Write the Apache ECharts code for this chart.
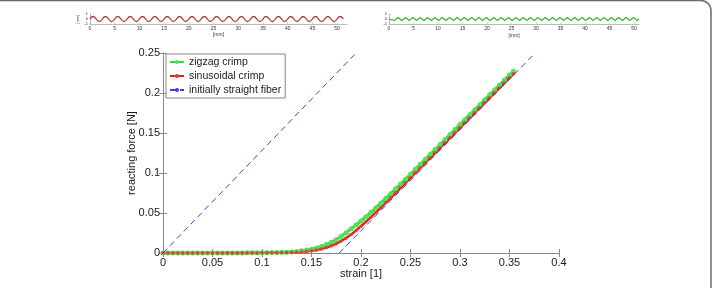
<!DOCTYPE html>
<html>
<head>
<meta charset="utf-8">
<script src="https://cdn.jsdelivr.net/npm/echarts@6/dist/echarts.min.js"></script>
<style>html,body{margin:0;padding:0;background:#fff;}#c{width:713px;height:288px;}</style>
</head>
<body>
<div id="c"></div>
<script>
// ---- main chart data ----
const strain = [0,0.005,0.01,0.015,0.02,0.025,0.03,0.035,0.04,0.045,0.05,0.055,0.06,0.065,0.07,0.075,0.08,0.085,0.09,0.095,0.1,0.105,0.11,0.115,0.12,0.125,0.13,0.135,0.14,0.145,0.15,0.155,0.16,0.165,0.17,0.175,0.18,0.185,0.19,0.195,0.2,0.205,0.21,0.215,0.22,0.225,0.23,0.235,0.24,0.245,0.25,0.255,0.26,0.265,0.27,0.275,0.28,0.285,0.29,0.295,0.3,0.305,0.31,0.315,0.32,0.325,0.33,0.335,0.34,0.345,0.35,0.354];
const zigzagForce = [0,0,0,0,0,0,0,0,0,0,0,0,0,0,0.0001,0.0001,0.0001,0.0002,0.0002,0.0003,0.0003,0.0004,0.0005,0.0006,0.0008,0.001,0.0014,0.002,0.0027,0.0036,0.0048,0.0063,0.0082,0.0105,0.0133,0.0167,0.021,0.0254,0.0302,0.035,0.04,0.0453,0.0508,0.0565,0.0623,0.0682,0.0742,0.0802,0.0862,0.0923,0.0985,0.1047,0.1109,0.1171,0.1233,0.1295,0.1357,0.1419,0.1481,0.1543,0.1605,0.1667,0.1729,0.1791,0.1853,0.1915,0.1977,0.2039,0.2101,0.2163,0.2225,0.2272];
const sinusoidalForce = [0,0,0,0,0,0,0,0,0,0,0,0,0,0,0,0,0.0001,0.0001,0.0001,0.0001,0.0002,0.0002,0.0002,0.0003,0.0003,0.0005,0.0007,0.001,0.0014,0.002,0.0028,0.0038,0.0051,0.0068,0.009,0.0117,0.015,0.0188,0.023,0.0281,0.0335,0.039,0.0448,0.0507,0.0567,0.0628,0.069,0.0752,0.0815,0.0877,0.094,0.1003,0.1065,0.1128,0.119,0.1253,0.1315,0.1378,0.144,0.1503,0.1565,0.1628,0.169,0.1753,0.1815,0.1878,0.194,0.2003,0.2065,0.2128,0.219,0.224];
const straightAX = [0,0.195];
const straightAY = [0,0.25];
const straightBX = [0.178,0.376];
const straightBY = [0,0.25];
const seriesNames = ['zigzag crimp','sinusoidal crimp','initially straight fiber'];

// ---- crimp geometry insets (mm) ----
const sinCrimpX = [0,0.625,1.875,3.125,4.375,5.625,6.875,8.125,9.375,10.625,11.875,13.125,14.375,15.625,16.875,18.125,19.375,20.625,21.875,23.125,24.375,25.625,26.875,28.125,29.375,30.625,31.875,33.125,34.375,35.625,36.875,38.125,39.375,40.625,41.875,43.125,44.375,45.625,46.875,48.125,49.375,50.625,51.25];
const sinCrimpY = [0,0.5,-0.5,0.5,-0.5,0.5,-0.5,0.5,-0.5,0.5,-0.5,0.5,-0.5,0.5,-0.5,0.5,-0.5,0.5,-0.5,0.5,-0.5,0.5,-0.5,0.5,-0.5,0.5,-0.5,0.5,-0.5,0.5,-0.5,0.5,-0.5,0.5,-0.5,0.5,-0.5,0.5,-0.5,0.5,-0.5,0.5,0];
const zigCrimpX = [0,0.375,1.125,1.875,2.625,3.375,4.125,4.875,5.625,6.375,7.125,7.875,8.625,9.375,10.125,10.875,11.625,12.375,13.125,13.875,14.625,15.375,16.125,16.875,17.625,18.375,19.125,19.875,20.625,21.375,22.125,22.875,23.625,24.375,25.125,25.875,26.625,27.375,28.125,28.875,29.625,30.375,31.125,31.875,32.625,33.375,34.125,34.875,35.625,36.375,37.125,37.875,38.625,39.375,40.125,40.875,41.625,42.375,43.125,43.875,44.625,45.375,46.125,46.875,47.625,48.375,49.125,49.875,50.625,51];
const zigCrimpY = [0,0.3,-0.3,0.3,-0.3,0.3,-0.3,0.3,-0.3,0.3,-0.3,0.3,-0.3,0.3,-0.3,0.3,-0.3,0.3,-0.3,0.3,-0.3,0.3,-0.3,0.3,-0.3,0.3,-0.3,0.3,-0.3,0.3,-0.3,0.3,-0.3,0.3,-0.3,0.3,-0.3,0.3,-0.3,0.3,-0.3,0.3,-0.3,0.3,-0.3,0.3,-0.3,0.3,-0.3,0.3,-0.3,0.3,-0.3,0.3,-0.3,0.3,-0.3,0.3,-0.3,0.3,-0.3,0.3,-0.3,0.3,-0.3,0.3,-0.3,0.3,-0.3,0];

function pairs(xs, ys){ return xs.map((x,i)=>[x, ys[i]]); }

const FONT = 'Liberation Sans, Arial, sans-serif';
const AX = '#8a8a8a';
const TXT = '#1a1a1a';

const chart = echarts.init(document.getElementById('c'), null, {renderer:'canvas'});

const mainAxisCommon = {
  axisLine:{show:true, lineStyle:{color:AX, width:1}},
  axisTick:{show:true, inside:true, length:4, lineStyle:{color:AX}},
  splitLine:{show:false},
};
const insetAxisCommon = {
  axisLine:{show:true, onZero:false, lineStyle:{color:'#aaa', width:0.8}},
  axisTick:{show:true, inside:true, length:1.5, lineStyle:{color:'#aaa', width:0.6}},
  splitLine:{show:false},
  axisLabel:{fontSize:5, color:'#333', margin:2, fontFamily:FONT, showMaxLabel:false},
};

chart.setOption({
  animation:false,
  backgroundColor:'#fff',
  textStyle:{fontFamily:FONT},
  grid:[
    {left:163, top:53, width:396, height:200},
    {left:90, top:14, width:257, height:10},
    {left:389, top:14, width:250, height:10}
  ],
  xAxis:[
    Object.assign({gridIndex:0, type:'value', min:0, max:0.4, interval:0.05, position:'bottom',
      axisLabel:{fontSize:11, color:TXT, margin:4, fontFamily:FONT},
      name:'strain [1]', nameLocation:'middle', nameGap:15, nameMoveOverlap:false,
      nameTextStyle:{fontSize:11, color:TXT, fontFamily:FONT, verticalAlign:'top'}}, mainAxisCommon),
    Object.assign({gridIndex:0, type:'value', min:0, max:0.4, interval:0.05, position:'top',
      axisLabel:{show:false}}, mainAxisCommon),
    Object.assign({}, insetAxisCommon, {gridIndex:1, type:'value', min:0, max:52, interval:5, position:'bottom',
      name:'[mm]', nameLocation:'middle', nameGap:8, nameMoveOverlap:false, nameTextStyle:{fontSize:5, color:'#333'}}),
    Object.assign({}, insetAxisCommon, {gridIndex:2, type:'value', min:0, max:51, interval:5, position:'bottom',
      name:'[mm]', nameLocation:'middle', nameGap:9, nameMoveOverlap:false, nameTextStyle:{fontSize:5, color:'#333'}})
  ],
  yAxis:[
    Object.assign({gridIndex:0, type:'value', min:0, max:0.25, interval:0.05, position:'left',
      axisLabel:{fontSize:11, color:TXT, margin:3, fontFamily:FONT},
      name:'reacting force [N]', nameLocation:'middle', nameGap:26, nameMoveOverlap:false,
      nameTextStyle:{fontSize:11, color:TXT, fontFamily:FONT}}, mainAxisCommon),
    Object.assign({gridIndex:0, type:'value', min:0, max:0.25, interval:0.05, position:'right',
      axisLabel:{show:false}}, mainAxisCommon),
    Object.assign({}, insetAxisCommon, {gridIndex:1, type:'value', min:-1, max:1, interval:1, position:'left',
      axisLabel:{fontSize:4, color:'#333', margin:2},
      name:'[mm]', nameLocation:'middle', nameGap:10, nameMoveOverlap:false, nameTextStyle:{fontSize:4, color:'#333'}}),
    Object.assign({}, insetAxisCommon, {gridIndex:2, type:'value', min:-1, max:1, interval:1, position:'left',
      axisLabel:{fontSize:4, color:'#333', margin:2}})
  ],
  legend:{
    data:seriesNames,
    orient:'vertical', left:166, top:54,
    itemWidth:14, itemHeight:5, itemGap:2,
    padding:[2,4,2,3],
    borderColor:'#888', borderWidth:1, backgroundColor:'#fff',
    textStyle:{fontSize:10.5, color:TXT, fontFamily:FONT, lineHeight:12}
  },
  series:[
    {type:'line', xAxisIndex:2, yAxisIndex:2, data:pairs(sinCrimpX, sinCrimpY), smooth:0.5,
     symbol:'none', lineStyle:{color:'#a83838', width:1.3}, silent:true},
    {type:'line', xAxisIndex:3, yAxisIndex:3, data:pairs(zigCrimpX, zigCrimpY),
     symbol:'none', lineStyle:{color:'#2fb52f', width:1.1}, silent:true},
    {name:seriesNames[0], type:'line', xAxisIndex:0, yAxisIndex:0, data:pairs(strain, zigzagForce),
     symbol:'circle', symbolSize:5, showAllSymbol:true, color:'#3ad83a',
     lineStyle:{color:'#3ad83a', width:3}, itemStyle:{color:'#55e055'}},
    {name:seriesNames[1], type:'line', xAxisIndex:0, yAxisIndex:0, data:pairs(strain, sinusoidalForce),
     symbol:'circle', symbolSize:3.5, showAllSymbol:true, color:'#e02424',
     lineStyle:{color:'#d81e1e', width:2.4}, itemStyle:{color:'#e63a3a'}},
    {name:seriesNames[2], type:'line', xAxisIndex:0, yAxisIndex:0, data:pairs(straightAX, straightAY),
     symbol:'none', color:'#3f3fd0', lineStyle:{color:'#3f3fd0', width:1, type:[6,4]}, z:5},
    {name:seriesNames[2], type:'line', xAxisIndex:0, yAxisIndex:0, data:pairs(straightBX, straightBY),
     symbol:'none', color:'#3f3fd0', lineStyle:{color:'#3f3fd0', width:1, type:[6,4]}, z:5}
  ],
  graphic:[
    {type:'rect', shape:{x:-20, y:0.5, width:731, height:330, r:10},
     style:{fill:null, stroke:'#6a6a6a', lineWidth:1.5}, silent:true, z:100}
  ]
});
</script>
</body>
</html>
